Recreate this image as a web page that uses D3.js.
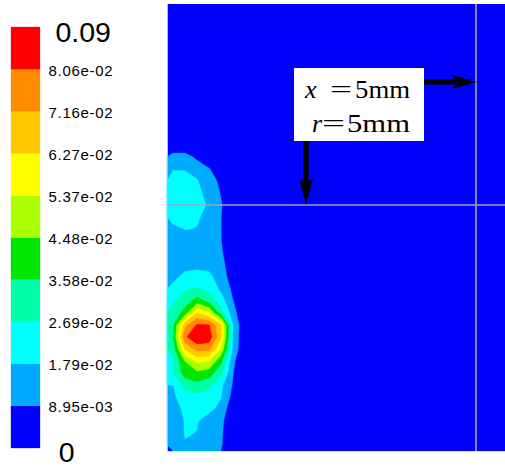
<!DOCTYPE html>
<html>
<head>
<meta charset="utf-8">
<script src="https://cdn.jsdelivr.net/npm/d3@7"></script>
<style>
  body { margin: 0; background: #fff; }
  svg { display: block; }
</style>
</head>
<body>
<div id="chart"></div>
<script>
const width = 505,
    height = 467;

// contour levels (legend boundaries, bottom -> top)
const levelValues = [0, 8.95e-3, 1.79e-2, 2.69e-2, 3.58e-2, 4.48e-2, 5.37e-2, 6.27e-2, 7.16e-2, 8.06e-2, 0.09];
const levelLabels = ["0", "8.95e-03", "1.79e-02", "2.69e-02", "3.58e-02", "4.48e-02",
    "5.37e-02", "6.27e-02", "7.16e-02", "8.06e-02", "0.09"];
const bandColors = ["#0000ff", "#00aaff", "#00ffff", "#00ffaa", "#00e600",
    "#aaff00", "#ffff00", "#ffc800", "#ff8c00", "#ff0000"];

// guide lines (mm)
const guideX = [5];
const guideR = [5];

// field: rows top -> bottom, columns from the wall outwards
const fieldRows = [
    [0,      0,      0,      0,      0,      0,      0, 0],
    [0.0134, 0.0134, 0.0067, 0,      0,      0,      0, 0],
    [0.0172, 0.0170, 0.0150, 0.0098, 0,      0,      0, 0],
    [0.0240, 0.0230, 0.0185, 0.0130, 0.0069, 0,      0, 0],
    [0.0250, 0.0240, 0.0195, 0.0157, 0.0083, 0,      0, 0],
    [0.0250, 0.0240, 0.0210, 0.0169, 0.0098, 0,      0, 0],
    [0.0230, 0.0220, 0.0190, 0.0150, 0.0092, 0,      0, 0],
    [0.0145, 0.0182, 0.0176, 0.0130, 0.0091, 0,      0, 0],
    [0.0140, 0.0145, 0.0140, 0.0120, 0.0093, 0,      0, 0],
    [0.0135, 0.0140, 0.0150, 0.0130, 0.0105, 0,      0, 0],
    [0.0145, 0.0160, 0.0165, 0.0160, 0.0134, 0,      0, 0],
    [0.0165, 0.0195, 0.0200, 0.0195, 0.0147, 0.0030, 0, 0],
    [0.0195, 0.0260, 0.0278, 0.0250, 0.0160, 0.0070, 0, 0],
    [0.0260, 0.0310, 0.0400, 0.0330, 0.0225, 0.0092, 0, 0],
    [0.0290, 0.0400, 0.0627, 0.0550, 0.0310, 0.0126, 0, 0],
    [0.0340, 0.0690, 0.0820, 0.0810, 0.0640, 0.0180, 0, 0],
    [0.0350, 0.0790, 0.0890, 0.0860, 0.0640, 0.0170, 0, 0],
    [0.0300, 0.0640, 0.0745, 0.0745, 0.0530, 0.0160, 0, 0],
    [0.0260, 0.0450, 0.0560, 0.0540, 0.0380, 0.0110, 0, 0],
    [0.0260, 0.0400, 0.0430, 0.0400, 0.0300, 0.0093, 0, 0],
    [0.0180, 0.0300, 0.0330, 0.0300, 0.0200, 0.0080, 0, 0],
    [0.0160, 0.0230, 0.0245, 0.0220, 0.0181, 0.0059, 0, 0],
    [0.0145, 0.0195, 0.0205, 0.0190, 0.0166, 0,      0, 0],
    [0.0130, 0.0184, 0.0182, 0.0159, 0.0116, 0,      0, 0],
    [0.0135, 0.0182, 0.0178, 0.0145, 0.0105, 0,      0, 0],
    [0.0135, 0.0176, 0.0165, 0.0140, 0.0100, 0,      0, 0]
];

const plot = { left: 167, right: 505, top: 4, bottom: 451 };
const nx = fieldRows[0].length,
    ny = fieldRows.length;

const svg = d3.select("#chart")
    .append("svg")
    .attr("width", width)
    .attr("height", height);

// plot background = lowest band
svg.append("rect")
    .attr("x", plot.left)
    .attr("y", plot.top)
    .attr("width", plot.right - plot.left)
    .attr("height", plot.bottom - plot.top)
    .attr("fill", bandColors[0]);

// grid -> pixel scales (12px cells, grid sits on the wall and the bottom edge)
const gx = d3.scaleLinear().domain([0, nx]).range([plot.left, plot.left + nx * 12]);
const gy = d3.scaleLinear().domain([0, ny]).range([plot.bottom - ny * 12, plot.bottom]);

const projection = d3.geoTransform({
    point: function (x, y) { this.stream.point(gx(x), gy(y)); }
});
const path = d3.geoPath(projection);

const contours = d3.contours()
    .size([nx, ny])
    .thresholds(levelValues.slice(1, 10))
    (fieldRows.flat());

svg.append("g")
    .selectAll("path")
    .data(contours)
    .enter()
    .append("path")
    .attr("d", path)
    .attr("fill", (d, i) => bandColors[i + 1])
    .attr("stroke", (d, i) => bandColors[i + 1])
    .attr("stroke-width", 0.4);

// guide lines at x = 5mm, r = 5mm
const xMm = d3.scaleLinear().domain([0, 5]).range([plot.left, 476]);
const rMm = d3.scaleLinear().domain([0, 5]).range([plot.bottom, 205]);

svg.selectAll(".gx")
    .data(guideX)
    .enter().append("line")
    .attr("class", "gx")
    .attr("x1", d => xMm(d)).attr("x2", d => xMm(d))
    .attr("y1", plot.top).attr("y2", plot.bottom)
    .attr("stroke", "#a2a2ba")
    .attr("stroke-width", 1.6);

svg.selectAll(".gr")
    .data(guideR)
    .enter().append("line")
    .attr("class", "gr")
    .attr("x1", plot.left).attr("x2", plot.right)
    .attr("y1", d => rMm(d)).attr("y2", d => rMm(d))
    .attr("stroke", "#a2a2ba")
    .attr("stroke-width", 1.6);

// frame edges
svg.append("line")
    .attr("x1", plot.left + 0.5).attr("x2", plot.left + 0.5)
    .attr("y1", plot.top).attr("y2", plot.bottom)
    .attr("stroke", "#b4b4e6").attr("stroke-width", 1);
svg.append("line")
    .attr("x1", plot.left).attr("x2", plot.right)
    .attr("y1", plot.bottom + 0.5).attr("y2", plot.bottom + 0.5)
    .attr("stroke", "#eeee88").attr("stroke-width", 1);

// annotation box + arrows
svg.append("rect")
    .attr("x", 294).attr("y", 68)
    .attr("width", 130).attr("height", 73)
    .attr("fill", "#fff");

const ann = svg.append("g")
    .style("font-family", "'Liberation Serif', 'Times New Roman', serif")
    .style("font-size", "26px")
    .attr("fill", "#000");

ann.append("text").attr("x", 305).attr("y", 98).style("font-style", "italic").text("x");
ann.append("text").attr("x", 330).attr("y", 98)
    .attr("textLength", 22).attr("lengthAdjust", "spacingAndGlyphs").text("=");
ann.append("text").attr("x", 355).attr("y", 98)
    .attr("textLength", 55).attr("lengthAdjust", "spacingAndGlyphs").text("5mm");

ann.append("text").attr("x", 312).attr("y", 132).style("font-style", "italic").text("r");
ann.append("text").attr("x", 322).attr("y", 132)
    .attr("textLength", 23).attr("lengthAdjust", "spacingAndGlyphs").text("=");
ann.append("text").attr("x", 347).attr("y", 132)
    .attr("textLength", 63).attr("lengthAdjust", "spacingAndGlyphs").text("5mm");

// arrow to the x line
svg.append("rect")
    .attr("x", 424).attr("y", 79.5)
    .attr("width", 32).attr("height", 5)
    .attr("fill", "#000");
svg.append("path")
    .attr("d", "M452,75 L477,82 L452,89 L457,82 Z")
    .attr("fill", "#000");

// arrow to the r line
svg.append("rect")
    .attr("x", 303.5).attr("y", 141)
    .attr("width", 5).attr("height", 42)
    .attr("fill", "#000");
svg.append("path")
    .attr("d", "M299,178 L306,205 L313,178 L306,183 Z")
    .attr("fill", "#000");

// legend
const legendY = d3.scaleLinear().domain([0, levelValues.length - 1]).range([448, 27]);

svg.append("g")
    .selectAll("rect")
    .data(bandColors)
    .enter().append("rect")
    .attr("x", 11)
    .attr("width", 29)
    .attr("y", (d, i) => legendY(i + 1))
    .attr("height", (d, i) => legendY(i) - legendY(i + 1))
    .attr("fill", d => d)
    .attr("stroke", d => d)
    .attr("stroke-width", 0.3);

const legendText = svg.append("g")
    .style("font-family", "'Liberation Sans', Arial, sans-serif")
    .attr("fill", "#000");

legendText.selectAll("text.small")
    .data(levelLabels.slice(1, levelLabels.length - 1))
    .enter().append("text")
    .attr("class", "small")
    .attr("x", 48.5)
    .attr("y", (d, i) => legendY(i + 1) + 6.5)
    .attr("textLength", 64)
    .attr("lengthAdjust", "spacing")
    .style("font-size", "15px")
    .text(d => d);

legendText.append("text")
    .attr("x", 55.5)
    .attr("y", 42)
    .style("font-size", "28.5px")
    .text(levelLabels[levelLabels.length - 1]);

legendText.append("text")
    .attr("x", 58.8)
    .attr("y", 462)
    .style("font-size", "28.5px")
    .text(levelLabels[0]);
</script>
</body>
</html>
